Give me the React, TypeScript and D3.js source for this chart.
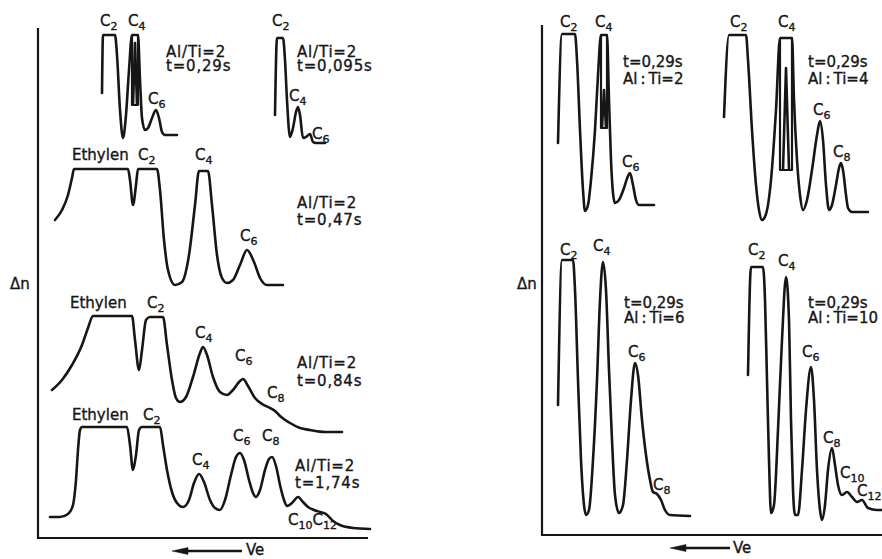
import * as d3 from 'd3';

type Pt = [number, number];

const leftAl2t029: Pt[] = [
  [64, 45], [65, 103], [77, 103], [79, 83], [82, 28], [85, 0], [88, 23], [91, 68], [94, 103],
  [100, 103], [102, 58], [104, 20], [107, 8], [110, 10], [114, 20], [118, 28], [121, 20],
  [124, 6], [127, 3], [139, 3],
];
const leftAl2t029Box: Pt[] = [[94, 103], [100, 103], [100, 33], [94, 33], [94, 103]];
const leftAl2t029Inner: Pt[] = [[95, 33], [97, 95], [99, 33]];

const leftAl2t0095: Pt[] = [
  [237, 28], [239, 105], [245, 105], [247, 83], [249, 43], [252, 6], [255, 15], [258, 31],
  [260, 36], [262, 28], [265, 5], [268, 6], [272, 9], [275, 1], [278, 0], [287, 0],
];

const leftAl2t047: Pt[] = [
  [17, 65], [24, 75], [30, 90], [34, 107], [36, 116], [90, 116], [92, 105], [95, 80], [98, 100],
  [100, 116], [119, 116], [122, 95], [126, 45], [130, 15], [137, 0], [144, 3], [151, 30],
  [157, 80], [161, 114], [170, 114], [174, 80], [179, 30], [184, 7], [189, 2], [195, 5],
  [202, 20], [209, 35], [216, 23], [222, 7], [229, 0], [245, 0],
];

const leftAl2t084: Pt[] = [
  [14, 42], [24, 52], [34, 67], [44, 87], [50, 104], [55, 116], [94, 116], [97, 92], [101, 62],
  [104, 82], [108, 112], [112, 115], [125, 115], [129, 87], [134, 52], [138, 34], [142, 30],
  [148, 35], [155, 55], [162, 79], [165, 85], [169, 77], [175, 55], [182, 40], [189, 37],
  [195, 42], [202, 51], [205, 53], [210, 46], [217, 34], [224, 28], [232, 24], [237, 21],
  [242, 16], [252, 9], [262, 4], [272, 2], [287, 0], [304, 0],
];

const leftAl2t174: Pt[] = [
  [12, 12], [22, 12], [30, 15], [35, 24], [38, 49], [40, 79], [42, 99], [44, 102], [89, 102],
  [92, 84], [95, 59], [98, 74], [101, 99], [104, 102], [122, 102], [125, 84], [129, 59],
  [134, 37], [139, 26], [145, 22], [151, 29], [156, 46], [161, 55], [166, 47], [172, 29],
  [177, 21], [182, 19], [187, 29], [193, 54], [198, 72], [202, 76], [206, 69], [211, 49],
  [215, 36], [218, 32], [222, 39], [227, 59], [231, 70], [234, 72], [238, 63], [242, 44],
  [246, 29], [249, 23], [254, 26], [260, 32], [265, 27], [270, 22], [276, 19], [282, 17],
  [288, 15], [295, 8], [302, 4], [315, 1], [332, 0],
];

const rightAlTi2: Pt[] = [
  [16, 69], [20, 178], [33, 178], [35, 152], [38, 82], [41, 22], [43, 1], [46, 7], [49, 32],
  [53, 82], [56, 137], [59, 177], [65, 177], [67, 112], [69, 52], [71, 19], [73, 9], [77, 12],
  [82, 24], [86, 36], [88, 39], [91, 27], [94, 12], [97, 7], [112, 7],
];
const rightAlTi2Box: Pt[] = [[59, 177], [65, 177], [65, 84], [59, 84], [59, 177]];
const rightAlTi2Inner: Pt[] = [[60, 84], [62, 122], [64, 84]];

const rightAlTi4: Pt[] = [
  [182, 95], [187, 177], [204, 177], [206, 152], [210, 82], [214, 27], [217, 2], [220, -8],
  [224, -2], [229, 32], [234, 102], [238, 174], [250, 174], [252, 112], [255, 52], [258, 17],
  [261, 2], [265, 12], [270, 42], [275, 77], [278, 91], [281, 72], [284, 27], [287, 2],
  [290, 7], [294, 27], [297, 44], [299, 49], [301, 42], [304, 17], [306, 4], [310, 0], [326, 0],
];
const rightAlTi4Box: Pt[] = [[238, 174], [250, 174], [250, 42], [238, 42], [238, 174]];
const rightAlTi4Inner: Pt[] = [[241, 42], [244, 144], [247, 42]];

const rightAlTi6: Pt[] = [
  [16, 111], [20, 256], [31, 256], [33, 226], [36, 136], [39, 56], [42, 11], [44, 1], [47, 6],
  [51, 56], [55, 136], [58, 216], [61, 254], [64, 226], [67, 146], [70, 76], [73, 21], [77, 3],
  [81, 11], [85, 56], [89, 116], [93, 153], [96, 141], [100, 96], [104, 61], [108, 36],
  [111, 24], [115, 22], [119, 16], [123, 6], [128, 1], [148, 0],
];

const rightAlTi10: Pt[] = [
  [206, 141], [209, 249], [221, 249], [223, 216], [225, 136], [227, 56], [229, 3], [232, 11],
  [236, 86], [240, 176], [244, 239], [247, 196], [249, 96], [251, 26], [253, 1], [256, 1],
  [260, 46], [264, 106], [269, 149], [272, 116], [275, 46], [278, 6], [280, -4], [283, 11],
  [286, 46], [290, 68], [293, 51], [296, 31], [300, 21], [305, 24], [310, 19], [315, 14],
  [320, 16], [326, 8], [335, 6], [340, 6],
];

// layout: which panel and the baseline pixel of each trace
const traceLayout = [
  { data: leftAl2t029, panel: 'left', base: 138 },
  { data: leftAl2t0095, panel: 'left', base: 143 },
  { data: leftAl2t047, panel: 'left', base: 285 },
  { data: leftAl2t084, panel: 'left', base: 432 },
  { data: leftAl2t174, panel: 'left', base: 529 },
  { data: rightAlTi2, panel: 'right', base: 212 },
  { data: rightAlTi4, panel: 'right', base: 212 },
  { data: rightAlTi6, panel: 'right', base: 516 },
  { data: rightAlTi10, panel: 'right', base: 516 },
];

const insetLayout = [
  { box: leftAl2t029Box, inner: leftAl2t029Inner, panel: 'left', base: 138 },
  { box: rightAlTi2Box, inner: rightAlTi2Inner, panel: 'right', base: 212 },
  { box: rightAlTi4Box, inner: rightAlTi4Inner, panel: 'right', base: 212 },
];

type Label = { text: string; sub?: string; text2?: string; sub2?: string; x: number; y: number };

const peakLabels: Label[] = [
  { text: 'C', sub: '2', x: 100, y: 26 }, { text: 'C', sub: '4', x: 128, y: 26 },
  { text: 'C', sub: '6', x: 148, y: 104 },
  { text: 'C', sub: '2', x: 272, y: 26 }, { text: 'C', sub: '4', x: 289, y: 101 },
  { text: 'C', sub: '6', x: 312, y: 139 },
  { text: 'Ethylen', x: 72, y: 160 }, { text: 'C', sub: '2', x: 138, y: 160 },
  { text: 'C', sub: '4', x: 195, y: 160 }, { text: 'C', sub: '6', x: 240, y: 241 },
  { text: 'Ethylen', x: 70, y: 308 }, { text: 'C', sub: '2', x: 147, y: 308 },
  { text: 'C', sub: '4', x: 195, y: 338 }, { text: 'C', sub: '6', x: 235, y: 361 },
  { text: 'C', sub: '8', x: 267, y: 398 },
  { text: 'Ethylen', x: 72, y: 420 }, { text: 'C', sub: '2', x: 143, y: 420 },
  { text: 'C', sub: '6', x: 233, y: 441 }, { text: 'C', sub: '8', x: 262, y: 441 },
  { text: 'C', sub: '4', x: 192, y: 465 },
  { text: 'C', sub: '10', text2: 'C', sub2: '12', x: 288, y: 525 },
  { text: 'C', sub: '2', x: 560, y: 27 }, { text: 'C', sub: '4', x: 595, y: 27 },
  { text: 'C', sub: '6', x: 622, y: 167 },
  { text: 'C', sub: '2', x: 730, y: 27 }, { text: 'C', sub: '4', x: 778, y: 27 },
  { text: 'C', sub: '6', x: 813, y: 115 }, { text: 'C', sub: '8', x: 833, y: 157 },
  { text: 'C', sub: '2', x: 560, y: 255 }, { text: 'C', sub: '4', x: 593, y: 251 },
  { text: 'C', sub: '6', x: 628, y: 357 }, { text: 'C', sub: '8', x: 653, y: 490 },
  { text: 'C', sub: '2', x: 748, y: 255 }, { text: 'C', sub: '4', x: 778, y: 266 },
  { text: 'C', sub: '6', x: 802, y: 357 }, { text: 'C', sub: '8', x: 823, y: 443 },
  { text: 'C', sub: '10', x: 840, y: 478 }, { text: 'C', sub: '12', x: 857, y: 496 },
];

const conditionLabels: { lines: string[]; x: number; y: number; gap: number; spacing: number }[] = [
  { lines: ['Al/Ti=2', 't=0,29s'], x: 166, y: 57, gap: 14, spacing: 0.8 },
  { lines: ['Al/Ti=2', 't=0,095s'], x: 297, y: 57, gap: 14, spacing: 0.8 },
  { lines: ['Al/Ti=2', 't=0,47s'], x: 297, y: 208, gap: 17, spacing: 0.8 },
  { lines: ['Al/Ti=2', 't=0,84s'], x: 297, y: 368, gap: 18, spacing: 0.8 },
  { lines: ['Al/Ti=2', 't=1,74s'], x: 295, y: 471, gap: 17, spacing: 0.8 },
  { lines: ['t=0,29s', 'Al\u2009:\u2009Ti=2'], x: 623, y: 67, gap: 17, spacing: 0 },
  { lines: ['t=0,29s', 'Al\u2009:\u2009Ti=4'], x: 808, y: 67, gap: 17, spacing: 0 },
  { lines: ['t=0,29s', 'Al\u2009:\u2009Ti=6'], x: 624, y: 308, gap: 15, spacing: 0 },
  { lines: ['t=0,29s', 'Al\u2009:\u2009Ti=10'], x: 808, y: 308, gap: 15, spacing: 0 },
];

const INK = '#161616';
const FONT = '"DejaVu Sans", sans-serif';

export default function App() {
  const xScales: Record<string, d3.ScaleLinear<number, number>> = {
    left: d3.scaleLinear().domain([0, 330]).range([38, 368]),
    right: d3.scaleLinear().domain([0, 340]).range([542, 882]),
  };
  const yFor = (base: number) => d3.scaleLinear().domain([0, 100]).range([base, base - 100]);

  const pathFor = (data: Pt[], panel: string, base: number, curve: d3.CurveFactory) => {
    const x = xScales[panel];
    const y = yFor(base);
    return d3.line<Pt>().x(d => x(d[0])).y(d => y(d[1])).curve(curve)(data) ?? '';
  };

  const axes = [
    { panel: 'left', top: 28, bottom: 538 },
    { panel: 'right', top: 25, bottom: 535 },
  ];

  return (
    <div style={{ position: 'absolute', left: 0, top: 0 }}>
      <svg width={882} height={559} style={{ display: 'block', background: '#fff' }}>
        {axes.map(a => {
          const [x0, x1] = xScales[a.panel].range();
          return (
            <g key={a.panel} stroke={INK} strokeWidth={2.2} fill="none">
              <line x1={x0} x2={x0} y1={a.top} y2={a.bottom + 1} />
              <line x1={x0 - 1} x2={x1} y1={a.bottom} y2={a.bottom} />
            </g>
          );
        })}

        {traceLayout.map((t, i) => (
          <path key={i} d={pathFor(t.data, t.panel, t.base, d3.curveMonotoneX)}
            fill="none" stroke={INK} strokeWidth={2.6} strokeLinejoin="round" strokeLinecap="round" />
        ))}

        {insetLayout.map((t, i) => (
          <g key={i} fill="none" stroke={INK} strokeLinejoin="round">
            <path d={pathFor(t.box, t.panel, t.base, d3.curveLinear)} strokeWidth={2.2} />
            <path d={pathFor(t.inner, t.panel, t.base, d3.curveLinear)} strokeWidth={2.6} />
          </g>
        ))}

        <g fontFamily={FONT} fontSize={15} fill={INK} stroke={INK} strokeWidth={0.35}>
          {peakLabels.map((l, i) => (
            <text key={i} x={l.x} y={l.y}>
              <tspan>{l.text}</tspan>
              {l.sub && <tspan fontSize={11} dy={4}>{l.sub}</tspan>}
              {l.text2 && <tspan dy={-4}>{l.text2}</tspan>}
              {l.sub2 && <tspan fontSize={11} dy={4}>{l.sub2}</tspan>}
            </text>
          ))}
          {conditionLabels.map((c, i) => (
            <text key={i} x={c.x} y={c.y} letterSpacing={c.spacing}>
              {c.lines.map((ln, j) => (
                <tspan key={j} x={c.x} dy={j === 0 ? 0 : c.gap}>{ln}</tspan>
              ))}
            </text>
          ))}

          <text x={10} y={289}>Δn</text>
          <text x={517} y={289}>Δn</text>

          <text x={246} y={555}>Ve</text>
          <text x={733} y={553}>Ve</text>
        </g>

        {[{ x0: 172, x1: 242, y: 551 }, { x0: 670, x1: 730, y: 548 }].map((a, i) => (
          <g key={i} fill={INK} stroke={INK}>
            <line x1={a.x0 + 10} x2={a.x1} y1={a.y} y2={a.y} strokeWidth={2.4} />
            <path d={`M${a.x0},${a.y} L${a.x0 + 16},${a.y - 3.5} L${a.x0 + 16},${a.y + 3.5} Z`} strokeWidth={0.5} />
          </g>
        ))}
      </svg>
    </div>
  );
}
